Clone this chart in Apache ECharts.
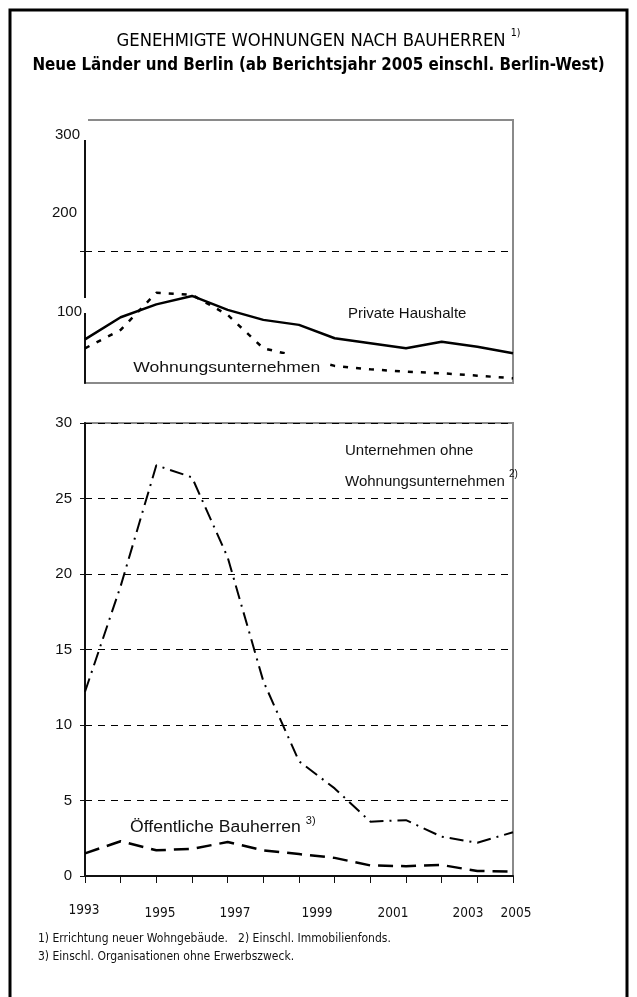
<!DOCTYPE html>
<html><head><meta charset="utf-8">
<script src="https://cdn.jsdelivr.net/npm/echarts@6/dist/echarts.min.js"></script>
<style>html,body{margin:0;padding:0;background:#fff}#c{width:637px;height:997px}</style>
</head><body><div id="c"></div>
<script>
// ---- data ----
const years = ['1993','1994','1995','1996','1997','1998','1999','2000','2001','2002','2003','2004','2005'];
const yearTickLabels = ['1993','1995','1997','1999','2001','2003','2005'];
// top panel (relative scale of the broken axis, 0..100 = panel height)
const privateHaushalte = [16.6, 25.0, 29.9, 33.1, 27.8, 24.0, 22.1, 17.0, 15.1, 13.2, 15.7, 13.8, 11.3];
const wohnungsunternehmen = [13.2, 20.2, 34.3, 33.5, 25.9, 13.2, 10.0, 6.5, 5.2, 4.3, 3.7, 2.8, 1.8];
const topTickLabels = ['300', '200', '100'];
// bottom panel
const unternehmenOhneWU = [12.2, 19.2, 27.2, 26.4, 21.1, 12.9, 7.6, 5.8, 3.6, 3.7, 2.6, 2.2, 2.9];
const oeffentlicheBauherren = [1.5, 2.3, 1.7, 1.8, 2.25, 1.7, 1.45, 1.2, 0.7, 0.65, 0.73, 0.33, 0.3];

// ---- layout ----
const chart = echarts.init(document.getElementById('c'), null, {renderer: 'canvas'});
const FONT = 'Liberation Sans';
const NARROW = '"DejaVu Sans Condensed", "Liberation Sans Narrow", "Liberation Sans", sans-serif';
const yearLabelX = [84, 160, 235, 317, 393, 468, 516];
const topLabelPos = [[80, 135], [77, 213], [82, 312]];

const graphics = [
  {type: 'rect', z: 100, shape: {x: 10, y: 10, width: 617, height: 1010}, style: {fill: 'none', stroke: '#000', lineWidth: 3}},
  {type: 'text', z: 100, left: 'center', top: 28, style: {
    text: '{t|GENEHMIGTE WOHNUNGEN NACH BAUHERREN }{s|1)}',
    rich: {t: {fontFamily: NARROW, fontSize: 18.3, fill: '#000', lineHeight: 22, verticalAlign: 'bottom'},
           s: {fontFamily: NARROW, fontSize: 10.5, fill: '#000', lineHeight: 22, verticalAlign: 'top'}}}},
  {type: 'text', z: 100, left: 'center', top: 57, style: {
    text: 'Neue Länder und Berlin (ab Berichtsjahr 2005 einschl. Berlin-West)',
    fontFamily: NARROW, fontSize: 16.8, fontWeight: 'bold', fill: '#000'}},
  // masks for the broken axis
  {type: 'rect', z: 100, shape: {x: 83, y: 118, width: 5, height: 22}, style: {fill: '#fff'}},
  {type: 'rect', z: 100, shape: {x: 83, y: 298, width: 5, height: 15}, style: {fill: '#fff'}},
  // series labels
  {type: 'text', z: 100, x: 348, y: 306, style: {text: 'Private Haushalte', fontFamily: FONT, fontSize: 15, fill: '#111'}},
  {type: 'text', z: 100, x: 131, y: 354, scaleX: 1.17, originX: 0, originY: 0,
   style: {text: 'Wohnungsunternehmen', fontFamily: FONT, fontSize: 15, fill: '#111', backgroundColor: '#fff', padding: [6, 8, 2, 2]}},
  {type: 'text', z: 100, x: 345, y: 443, style: {text: 'Unternehmen ohne', fontFamily: FONT, fontSize: 15, fill: '#111'}},
  {type: 'text', z: 100, x: 345, y: 469, style: {
    text: '{t|Wohnungsunternehmen }{s|2)}',
    rich: {t: {fontFamily: FONT, fontSize: 15, fill: '#111', lineHeight: 20, verticalAlign: 'bottom'},
           s: {fontFamily: FONT, fontSize: 10, fill: '#111', lineHeight: 20, verticalAlign: 'top'}}}},
  {type: 'text', z: 100, x: 130, y: 816, scaleX: 1.1, originX: 0, originY: 0, style: {
    text: '{t|Öffentliche Bauherren }{s|3)}',
    rich: {t: {fontFamily: FONT, fontSize: 16, fill: '#111', lineHeight: 20, verticalAlign: 'bottom'},
           s: {fontFamily: FONT, fontSize: 10, fill: '#111', lineHeight: 20, verticalAlign: 'top'}}}},
  // footnotes
  {type: 'text', z: 100, x: 38, y: 933, style: {text: '1) Errichtung neuer Wohngebäude.   2) Einschl. Immobilienfonds.', fontFamily: NARROW, fontSize: 12, fill: '#111'}},
  {type: 'text', z: 100, x: 38, y: 951, style: {text: '3) Einschl. Organisationen ohne Erwerbszweck.', fontFamily: NARROW, fontSize: 12, fill: '#111'}}
];
topTickLabels.forEach((t, i) => {
  graphics.push({type: 'text', z: 100, x: topLabelPos[i][0], y: topLabelPos[i][1],
    style: {text: t, fontFamily: FONT, fontSize: 15, fill: '#111', align: 'right', verticalAlign: 'middle', backgroundColor: i === 2 ? '#fff' : 'transparent'}});
});
yearTickLabels.forEach((t, i) => {
  graphics.push({type: 'text', z: 100, x: yearLabelX[i], y: i === 0 ? 910 : 913,
    style: {text: t, fontFamily: NARROW, fontSize: 13.5, fill: '#111', align: 'center', verticalAlign: 'middle'}});
});

const dashGrid = {show: true, lineStyle: {color: '#000', width: 1, type: [7, 6]}};

chart.setOption({
  animation: false,
  backgroundColor: '#fff',
  grid: [
    {left: 85, right: 124, top: 120, height: 263, show: true, borderColor: '#8a8a8a', borderWidth: 2},
    {left: 85, right: 124, top: 423, height: 453, show: true, borderColor: '#8a8a8a', borderWidth: 2}
  ],
  xAxis: [
    {type: 'category', gridIndex: 0, data: years, boundaryGap: false,
     axisLine: {show: false}, axisTick: {show: false}, axisLabel: {show: false}, splitLine: {show: false}},
    {type: 'category', gridIndex: 1, data: years, boundaryGap: false,
     axisLine: {show: true, lineStyle: {color: '#111', width: 2}},
     axisTick: {show: true, length: 7, lineStyle: {color: '#111', width: 1}},
     axisLabel: {show: false}, splitLine: {show: false}}
  ],
  yAxis: [
    {type: 'value', gridIndex: 0, min: 0, max: 100, interval: 50,
     axisLine: {show: true, lineStyle: {color: '#111', width: 2}},
     axisTick: {show: true, customValues: [50], length: 5, lineStyle: {color: '#111'}},
     axisLabel: {show: false}, splitLine: dashGrid},
    {type: 'value', gridIndex: 1, min: 0, max: 30, interval: 5,
     axisLine: {show: true, lineStyle: {color: '#111', width: 2}},
     axisTick: {show: true, length: 5, lineStyle: {color: '#111'}},
     axisLabel: {show: true, fontFamily: FONT, fontSize: 15, color: '#111', margin: 13},
     splitLine: dashGrid}
  ],
  series: [
    {name: 'Private Haushalte', type: 'line', xAxisIndex: 0, yAxisIndex: 0, data: privateHaushalte,
     showSymbol: false, lineStyle: {color: '#000', width: 2.5, type: 'solid'}},
    {name: 'Wohnungsunternehmen', type: 'line', xAxisIndex: 0, yAxisIndex: 0, data: wohnungsunternehmen,
     showSymbol: false, lineStyle: {color: '#000', width: 2.5, type: [5, 8]}},
    {name: 'Unternehmen ohne Wohnungsunternehmen', type: 'line', xAxisIndex: 1, yAxisIndex: 1, data: unternehmenOhneWU,
     showSymbol: false, lineStyle: {color: '#000', width: 2, type: [14, 6, 2, 6]}},
    {name: 'Öffentliche Bauherren', type: 'line', xAxisIndex: 1, yAxisIndex: 1, data: oeffentlicheBauherren,
     showSymbol: false, lineStyle: {color: '#000', width: 2.5, type: [15, 8]}}
  ],
  graphic: graphics
});
</script></body></html>
